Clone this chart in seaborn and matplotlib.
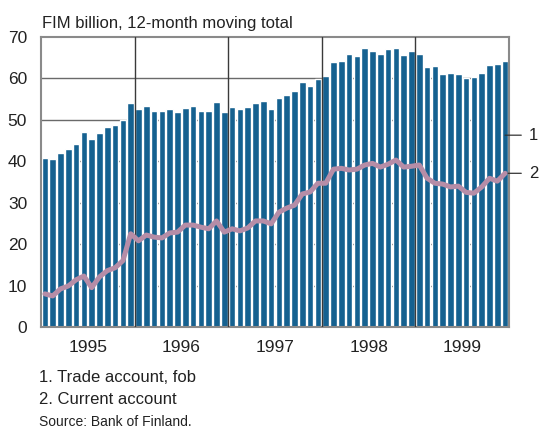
import matplotlib
matplotlib.use("Agg")
import matplotlib.pyplot as plt
import seaborn as sns
import numpy as np
import pandas as pd

years = ["1995", "1996", "1997", "1998", "1999"]
trade = [40.9, 40.6, 42.0, 43.0, 44.2, 47.1, 45.4, 46.8, 48.3, 48.8, 50.0, 54.0,
         52.6, 53.3, 52.1, 52.1, 52.6, 51.9, 52.8, 53.3, 52.1, 52.1, 54.3, 51.9,
         53.1, 52.6, 53.1, 54.0, 54.5, 52.6, 55.3, 56.0, 56.9, 59.1, 58.1, 59.8,
         60.5, 63.9, 64.2, 65.8, 65.4, 67.3, 66.6, 65.8, 67.0, 67.3, 65.6, 66.6,
         65.8, 62.7, 63.0, 61.0, 61.3, 61.0, 60.1, 60.3, 61.3, 63.2, 63.4, 64.2]
current = [8.0, 7.5, 9.2, 9.9, 11.4, 12.3, 9.5, 12.1, 13.6, 14.3, 16.0, 22.5,
           20.8, 22.2, 21.7, 21.5, 22.7, 22.9, 24.6, 24.6, 24.1, 23.7, 25.6, 22.9,
           23.7, 23.2, 23.9, 25.6, 25.6, 24.9, 27.7, 28.7, 29.4, 32.1, 32.6, 34.7,
           34.7, 38.1, 38.3, 37.9, 38.1, 39.1, 39.5, 38.6, 39.3, 40.3, 38.6, 38.8,
           39.1, 35.9, 34.7, 34.5, 33.8, 34.0, 32.5, 32.3, 33.8, 35.9, 35.2, 37.1]
title = "FIM billion, 12-month moving total"
legend_lines = ["1. Trade account, fob", "2. Current account"]
source = "Source: Bank of Finland."

sns.set_style("white")
plt.rcParams["font.family"] = ["Liberation Sans", "DejaVu Sans"]

df = pd.DataFrame({"month": np.arange(len(trade)), "trade": trade, "current": current})

fig = plt.figure(figsize=(5.39, 4.29), dpi=100)
ax = fig.add_axes([41/539, 1-327/429, 468/539, 290/429])

bar_color = "#156190"
line_color = "#b68da7"

sns.barplot(data=df, x="month", y="trade", color=bar_color, width=0.86,
            saturation=1, ax=ax, zorder=2)
sns.lineplot(data=df, x="month", y="current", color=line_color, lw=3.6,
             ax=ax, zorder=4)

ax.set_xlim(-0.5, len(trade) - 0.5)
ax.set_ylim(0, 70)
ax.set_yticks(range(0, 71, 10))
ax.set_yticklabels([str(v) for v in range(0, 71, 10)], fontsize=12.5, color="#222222")
ax.set_xticks([12 * i + 5.5 for i in range(len(years))])
ax.set_xticklabels(years, fontsize=12.5, color="#222222")
ax.tick_params(axis="both", length=0)
ax.tick_params(axis="y", pad=10)
ax.tick_params(axis="x", pad=9)
ax.set_xlabel("")
ax.set_ylabel("")

for v in range(10, 70, 10):
    ax.axhline(v, color="#6a6a6a", lw=1, zorder=1)
for i in range(1, len(years)):
    ax.axvline(12 * i - 0.5, color="#3a3a3a", lw=1, zorder=3)

for s in ax.spines.values():
    s.set_color("#8a8a8a")
    s.set_linewidth(1.5)
    s.set_visible(True)

for lab, yv in [("1", 46.3), ("2", current[-1])]:
    ax.annotate(lab, xy=(len(trade) - 1, yv), xytext=(17, 0), textcoords="offset points",
                fontsize=12, va="center", ha="left", color="#222222",
                arrowprops=dict(arrowstyle="-", color="#333333", lw=0.9,
                                shrinkA=3, shrinkB=0), annotation_clip=False)

fig.text(42/539, 1-28/429, title, fontsize=12, ha="left", va="baseline", color="#222222")
fig.text(39/539, 1-382/429, legend_lines[0], fontsize=12, ha="left", va="baseline", color="#222222")
fig.text(39/539, 1-404/429, legend_lines[1], fontsize=12, ha="left", va="baseline", color="#222222")
fig.text(39/539, 1-426/429, source, fontsize=10, ha="left", va="baseline", color="#222222")

fig.savefig("out.png", dpi=100)
